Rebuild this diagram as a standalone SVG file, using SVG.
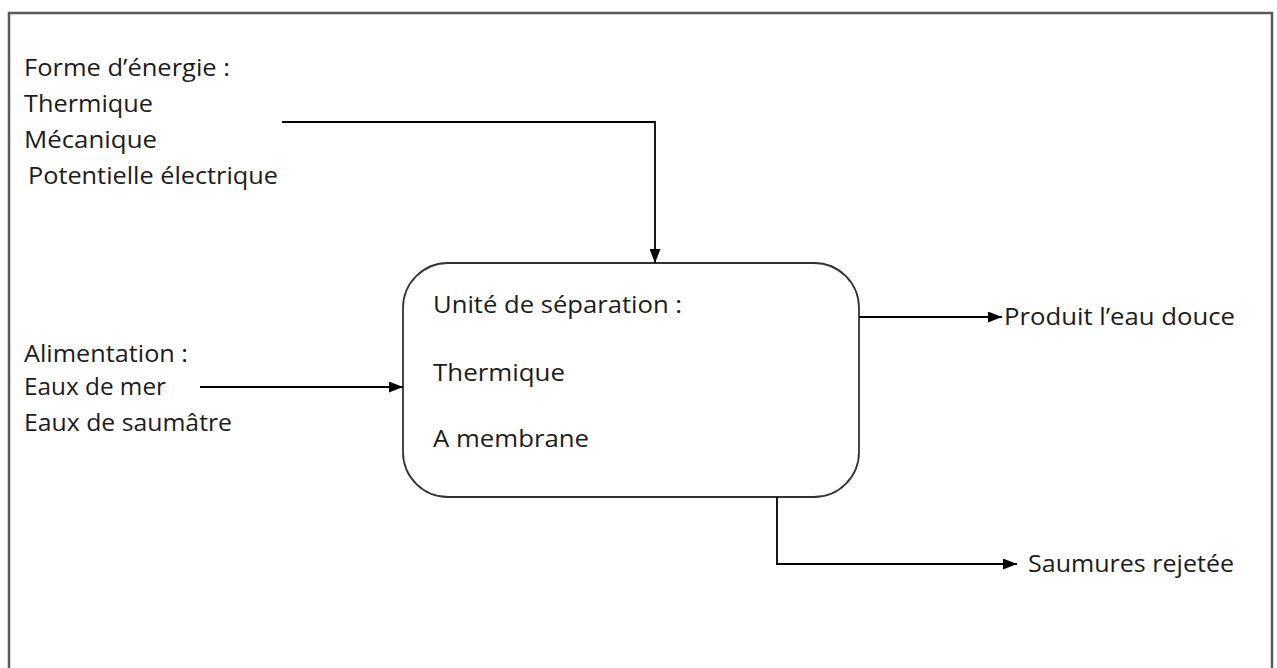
<svg xmlns="http://www.w3.org/2000/svg" width="1277" height="668" viewBox="0 0 1277 668">
  <defs>
    <marker id="arrow" viewBox="0 0 14 11" refX="14" refY="5.5" markerWidth="14" markerHeight="11" markerUnits="userSpaceOnUse" orient="auto">
      <path d="M0,0 L14,5.5 L0,11 Z" fill="#000"/>
    </marker>
    <style>
      text { font-family: "Open Sans", "Noto Sans", sans-serif; font-size: 24px; fill: #1c1c1c; }
      .frame { fill: #fff; stroke: #5a5a5a; stroke-width: 2.5; }
      .box { fill: #fff; stroke: #333; stroke-width: 1.8; }
      .flow { fill: none; stroke: #000; stroke-width: 1.8; marker-end: url(#arrow); }
    </style>
  </defs>

  <rect width="1277" height="668" fill="#fff"/>
  <!-- outer frame (bottom edge lies below the page) -->
  <rect class="frame" x="9" y="13" width="1263" height="700"/>

  <g id="energie">
    <text x="24" y="76" textLength="206" lengthAdjust="spacingAndGlyphs">Forme d’énergie :</text>
    <text x="24" y="112" textLength="129" lengthAdjust="spacingAndGlyphs">Thermique</text>
    <text x="24" y="148" textLength="133" lengthAdjust="spacingAndGlyphs">Mécanique</text>
    <text x="28" y="184" textLength="250" lengthAdjust="spacingAndGlyphs">Potentielle électrique</text>
  </g>

  <g id="alimentation">
    <text x="24" y="362" textLength="164" lengthAdjust="spacingAndGlyphs">Alimentation :</text>
    <text x="24" y="395" textLength="142" lengthAdjust="spacingAndGlyphs">Eaux de mer</text>
    <text x="24" y="431" textLength="208" lengthAdjust="spacingAndGlyphs">Eaux de saumâtre</text>
  </g>

  <g id="unite">
    <rect class="box" x="403" y="263" width="456" height="234" rx="45" ry="45"/>
    <text x="433" y="313" textLength="249" lengthAdjust="spacingAndGlyphs">Unité de séparation :</text>
    <text x="433" y="381" textLength="132" lengthAdjust="spacingAndGlyphs">Thermique</text>
    <text x="433" y="447" textLength="156" lengthAdjust="spacingAndGlyphs">A membrane</text>
  </g>

  <g id="eau-douce">
    <text x="1004" y="325" textLength="231" lengthAdjust="spacingAndGlyphs">Produit l’eau douce</text>
  </g>

  <g id="saumures">
    <text x="1028" y="572" textLength="206" lengthAdjust="spacingAndGlyphs">Saumures rejetée</text>
  </g>

  <g id="connectors">
    <path class="flow" d="M282,122 H655 V263"/>
    <path class="flow" d="M200,387 H403"/>
    <path class="flow" d="M859,317 H1002"/>
    <path class="flow" d="M777,497 V564 H1017"/>
  </g>
</svg>
